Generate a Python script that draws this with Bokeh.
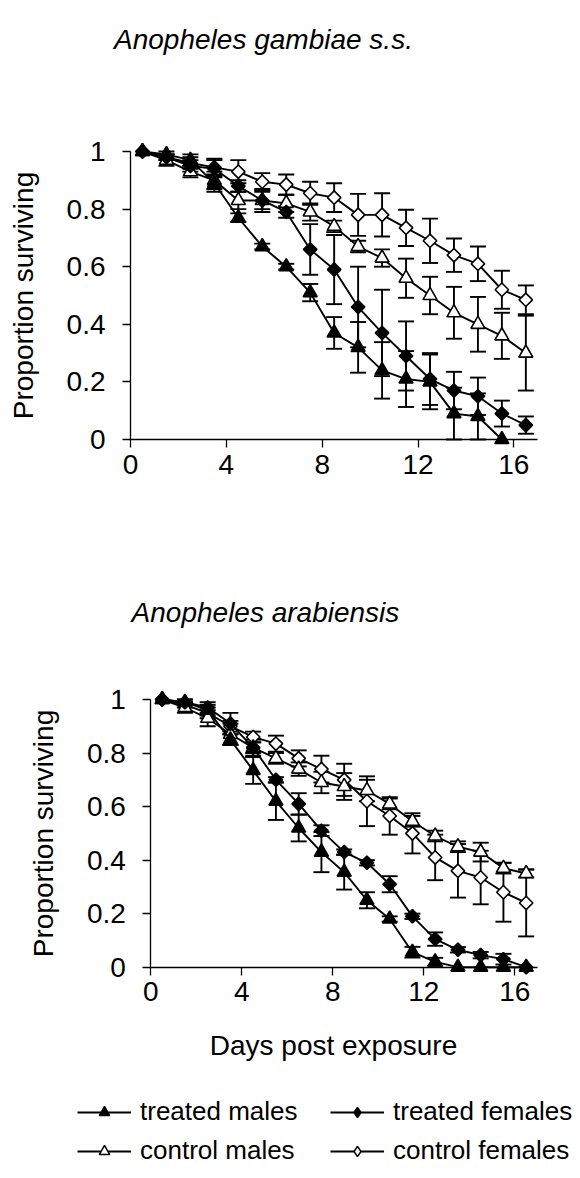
import numpy as np
from bokeh.plotting import figure
from bokeh.models import (ColumnDataSource, Range1d, FixedTicker, Whisker,
                          TeeHead, Label, Legend, LegendItem)
from bokeh.layouts import column
from bokeh.embed import file_html
from bokeh.resources import INLINE

FONT = "Liberation Sans"
TXT = "28px"

# ---------------- data ----------------
days = [0.5, 1.5, 2.5, 3.5, 4.5, 5.5, 6.5, 7.5, 8.5, 9.5, 10.5, 11.5,
        12.5, 13.5, 14.5, 15.5, 16.5]
x_ticks = [0, 4, 8, 12, 16]
y_ticks = [0, 0.2, 0.4, 0.6, 0.8, 1]
y_tick_labels = ["0", "0.2", "0.4", "0.6", "0.8", "1"]
series_names = ["treated males", "treated females", "control males", "control females"]

# Anopheles gambiae s.s.
gam_treated_males = [1.00, 0.99, 0.97, 0.89, 0.77, 0.67, 0.60, 0.51, 0.37, 0.32,
                     0.24, 0.21, 0.20, 0.09, 0.08, 0.00]
gam_treated_males_err = [0, 0.01, 0.02, 0.03, 0.015, 0.01, 0.01, 0.03, 0.055, 0.088,
                         0.098, 0.097, 0.095, 0.09, 0.08, 0]
gam_treated_females = [1.00, 0.98, 0.95, 0.94, 0.88, 0.83, 0.79, 0.66, 0.59, 0.46,
                       0.37, 0.29, 0.21, 0.17, 0.15, 0.09, 0.05]
gam_treated_females_err = [0, 0.01, 0.02, 0.03, 0.02, 0.04, 0.02, 0.088, 0.12, 0.14,
                           0.15, 0.12, 0.09, 0.065, 0.065, 0.045, 0.03]
gam_control_males = [1.00, 0.97, 0.93, 0.90, 0.83, 0.83, 0.82, 0.79, 0.74, 0.67,
                     0.63, 0.56, 0.50, 0.44, 0.40, 0.36, 0.30]
gam_control_males_err = [0, 0.02, 0.02, 0.03, 0.03, 0.03, 0.03, 0.03, 0.02, 0.02,
                         0.03, 0.068, 0.065, 0.09, 0.095, 0.08, 0.13]
gam_control_females = [1.00, 0.98, 0.96, 0.945, 0.93, 0.895, 0.885, 0.855, 0.84, 0.78,
                       0.78, 0.735, 0.69, 0.64, 0.61, 0.52, 0.485]
gam_control_females_err = [0, 0.01, 0.02, 0.03, 0.04, 0.03, 0.035, 0.04, 0.05, 0.073,
                           0.075, 0.063, 0.077, 0.058, 0.06, 0.066, 0.05]

# Anopheles arabiensis
ara_treated_males = [1.00, 0.99, 0.96, 0.85, 0.735, 0.62, 0.52, 0.43, 0.355, 0.25,
                     0.18, 0.056, 0.02, 0.0, 0.0, 0.0, 0.0]
ara_treated_males_err = [0, 0.01, 0.02, 0.02, 0.05, 0.07, 0.05, 0.075, 0.065, 0.03,
                         0.01, 0.02, 0.015, 0, 0, 0, 0]
ara_treated_females = [1.00, 0.99, 0.97, 0.91, 0.82, 0.70, 0.61, 0.51, 0.43, 0.39,
                       0.31, 0.19, 0.105, 0.065, 0.045, 0.03, 0.0]
ara_treated_females_err = [0, 0.01, 0.02, 0.04, 0.03, 0.01, 0.04, 0.02, 0.01, 0.01,
                           0.03, 0.01, 0.025, 0.01, 0.012, 0.02, 0]
ara_control_males = [1.00, 0.97, 0.93, 0.87, 0.82, 0.78, 0.74, 0.69, 0.675, 0.66,
                     0.61, 0.545, 0.49, 0.45, 0.43, 0.37, 0.35]
ara_control_males_err = [0, 0.02, 0.03, 0.04, 0.02, 0.02, 0.025, 0.04, 0.05, 0.04,
                         0.02, 0.02, 0.02, 0.02, 0.035, 0.02, 0.015]
ara_control_females = [1.00, 0.98, 0.95, 0.90, 0.86, 0.835, 0.78, 0.74, 0.70, 0.62,
                       0.565, 0.50, 0.41, 0.36, 0.335, 0.28, 0.24]
ara_control_females_err = [0, 0.01, 0.02, 0.02, 0.02, 0.03, 0.03, 0.05, 0.06, 0.093,
                           0.07, 0.075, 0.085, 0.10, 0.10, 0.11, 0.125]

gam_data = {
    "treated males": (gam_treated_males, gam_treated_males_err),
    "treated females": (gam_treated_females, gam_treated_females_err),
    "control males": (gam_control_males, gam_control_males_err),
    "control females": (gam_control_females, gam_control_females_err),
}
ara_data = {
    "treated males": (ara_treated_males, ara_treated_males_err),
    "treated females": (ara_treated_females, ara_treated_females_err),
    "control males": (ara_control_males, ara_control_males_err),
    "control females": (ara_control_females, ara_control_females_err),
}

STYLES = {
    "treated males": dict(marker="triangle", size=14, fill="black", angle=0.0),
    "treated females": dict(marker="square", size=9.5, fill="black", angle=np.pi / 4),
    "control males": dict(marker="triangle", size=14, fill="white", angle=0.0),
    "control females": dict(marker="square", size=9.5, fill="white", angle=np.pi / 4),
}
LEGEND_MARKERS = {
    "treated males": ("triangle", "black"),
    "treated females": ("diamond", "black"),
    "control males": ("triangle", "white"),
    "control females": ("diamond", "white"),
}

# ---------------- layout geometry (pixels) ----------------
W = 578


def ranges(height, x0_px, px_per_day, y1_px, y0_px):
    ppu = y0_px - y1_px
    xr = Range1d(-x0_px / px_per_day, (W - x0_px) / px_per_day)
    yr = Range1d(-(height - y0_px) / ppu, 1 + y1_px / ppu)
    return xr, yr


def style_axes(p):
    p.grid.visible = False
    p.outline_line_color = None
    p.background_fill_color = "white"
    p.border_fill_color = "white"
    for ax in (p.xaxis[0], p.yaxis[0]):
        ax.fixed_location = 0
        ax.axis_line_color = "black"
        ax.axis_line_width = 1.3
        ax.major_tick_line_color = "black"
        ax.major_tick_line_width = 1.3
        ax.major_tick_out = 8
        ax.major_tick_in = 0
        ax.minor_tick_line_color = None
        ax.major_label_text_font = FONT
        ax.major_label_text_font_size = TXT
        ax.major_label_text_color = "black"
    xa = p.xaxis[0]
    xa.bounds = (0, 17)
    xa.ticker = FixedTicker(ticks=x_ticks)
    xa.major_label_standoff = 7
    ya = p.yaxis[0]
    ya.bounds = (0, 1)
    ya.ticker = FixedTicker(ticks=y_ticks)
    ya.major_label_overrides = dict(zip(y_ticks, y_tick_labels))
    ya.major_label_standoff = 17
    ya.axis_label = "Proportion surviving"
    ya.axis_label_text_font = FONT
    ya.axis_label_text_font_size = TXT
    ya.axis_label_text_font_style = "normal"
    ya.axis_label_text_color = "black"
    ya.axis_label_standoff = 25


def make_panel(title, title_xy, data, height, x0_px, ppd, y1_px, y0_px):
    xr, yr = ranges(height, x0_px, ppd, y1_px, y0_px)
    p = figure(width=W, height=height, x_range=xr, y_range=yr,
               title=None, output_backend="svg", toolbar_location=None,
               min_border=0, min_border_left=0, min_border_right=0,
               min_border_top=0, min_border_bottom=0)
    style_axes(p)
    rends = {}
    for name in series_names:
        vals, errs = data[name]
        n = len(vals)
        x = np.array(days[:n])
        v = np.array(vals)
        e = np.array(errs)
        m = e > 0
        wsrc = ColumnDataSource(dict(base=x[m], upper=v[m] + e[m],
                                     lower=np.clip(v[m] - e[m], 0, None)))
        w = Whisker(source=wsrc, base="base", upper="upper", lower="lower",
                    dimension="height", line_color="black", line_width=1.9,
                    upper_head=TeeHead(size=16, line_width=1.9, line_color="black"),
                    lower_head=TeeHead(size=16, line_width=1.9, line_color="black"))
        p.add_layout(w)
    for name in ["control females", "control males", "treated females", "treated males"]:
        vals, errs = data[name]
        n = len(vals)
        src = ColumnDataSource(dict(x=days[:n], y=vals))
        st = STYLES[name]
        lr = p.line("x", "y", source=src, line_color="black", line_width=1.9)
        mr = p.scatter("x", "y", source=src, marker=st["marker"], size=st["size"],
                       angle=st["angle"], fill_color=st["fill"], line_color="black",
                       line_width=1.6)
        rends[name] = (lr, mr)
    p.add_layout(Label(x=title_xy[0], y=title_xy[1], text=title, text_font=FONT,
                       text_font_style="italic", text_font_size=TXT,
                       text_color="black", text_align="center",
                       text_baseline="middle"))
    return p, rends


# top panel: page y 0..500 ; bottom panel: page y 500..1170
p1, _ = make_panel("Anopheles gambiae s.s.", (5.55, 1.39), gam_data,
                   500, 130, 23.96, 151, 439)
p2, rends2 = make_panel("Anopheles arabiensis", (5.04, 1.325), ara_data,
                        670, 150.3, 22.75, 199, 466.7)

p2.add_layout(Label(x=8.03, y=-0.292, text="Days post exposure", text_font=FONT,
                    text_font_size=TXT, text_color="black", text_align="center",
                    text_baseline="middle"))

# legend-only marker renderers (no plotted points: NaN) so diamonds show as diamonds
items = []
for nm in ["treated males", "control males", "treated females", "control females"]:
    mk, fc = LEGEND_MARKERS[nm]
    lg = p2.scatter(x=[np.nan], y=[np.nan], marker=mk, fill_color=fc,
                    line_color="black", line_width=1.5)
    items.append(LegendItem(label=nm, renderers=[rends2[nm][0], lg]))

legend = Legend(items=items, location=(77, 4), orientation="vertical", nrows=2,
                border_line_color=None, background_fill_alpha=0, padding=0,
                spacing=8, glyph_width=54, glyph_height=26, label_standoff=9,
                label_width=182, label_text_font=FONT, label_text_font_size="26px",
                label_text_color="black", margin=0)
p2.add_layout(legend)

layout = column(p1, p2)
open("out.html", "w").write(file_html(layout, INLINE))
